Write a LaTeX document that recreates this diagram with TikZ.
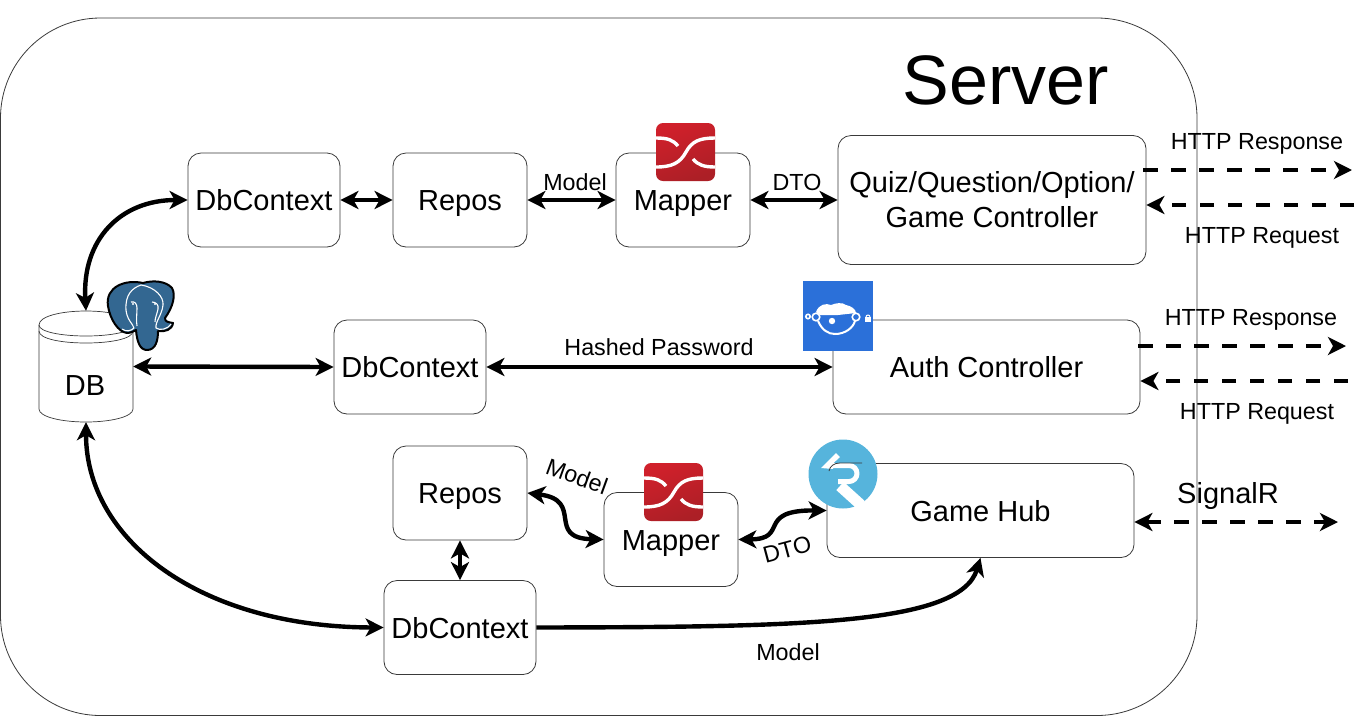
\documentclass[tikz,border=0pt]{standalone}
\usepackage{fontspec}
\setmainfont{Liberation Sans}
\usetikzlibrary{arrows.meta}
\definecolor{pgblue}{HTML}{336791}
\definecolor{amred}{HTML}{D0202B}
\definecolor{amdark}{HTML}{AC1F26}
\definecolor{fishblue}{HTML}{2B70D9}
\definecolor{sigblue}{HTML}{56B4DC}
\definecolor{boxline}{HTML}{3A3A3A}
\tikzset{
  box/.style={draw=boxline,line width=0.8pt,rounded corners=13pt,inner sep=0pt,font=\fontsize{29}{35}\selectfont,align=center},
  one/.style={text height=21pt,text depth=0pt},
  lab/.style={inner sep=0pt,font=\fontsize{23.3}{28}\selectfont,text height=17pt,text depth=0pt},
  link/.style={line width=4.4pt,draw=black,{Stealth[length=18pt,width=18pt,inset=5pt]}-{Stealth[length=18pt,width=18pt,inset=5pt]}},
  oneway/.style={line width=4.4pt,draw=black,-{Stealth[length=18pt,width=18pt,inset=5pt]},dash pattern=on 14.5pt off 13.5pt},
  twoway/.style={line width=4.4pt,draw=black,{Stealth[length=18pt,width=18pt,inset=5pt]}-{Stealth[length=18pt,width=18pt,inset=5pt]},dash pattern=on 14.5pt off 13.5pt},
  cyl/.style={draw=boxline,line width=0.7pt,fill=white}
}
\begin{document}
\begin{tikzpicture}[x=1pt,y=-1pt]
\useasboundingbox (0,0) rectangle (1366,716);
\draw[boxline,line width=0.8pt,rounded corners=100pt] (0.5,18) rectangle (1197,715.5);
\node[inner sep=0pt,font=\fontsize{70}{80}\selectfont] (title) at (1005.5,80) {Server};

% boxes
\node[box,one,minimum width=152pt,minimum height=94pt] (dc1) at (264,200) {DbContext};
\node[box,one,minimum width=134pt,minimum height=94pt] (rp1) at (460,200) {Repos};
\node[box,one,minimum width=134pt,minimum height=94pt] (mp1) at (683,200) {Mapper};
\node[box,minimum width=308pt,minimum height=129pt] (qz) at (992,200) {Quiz/Question/Option/\\Game Controller};
\node[box,one,minimum width=152pt,minimum height=94pt] (dc2) at (410,367) {DbContext};
\node[box,one,minimum width=307pt,minimum height=94pt] (au) at (986.5,367) {Auth Controller};
\node[box,one,minimum width=134pt,minimum height=94pt] (rp3) at (460,493) {Repos};
\node[box,one,minimum width=134pt,minimum height=94pt] (mp3) at (671,539.5) {Mapper};
\node[box,one,minimum width=307pt,minimum height=94pt] (gh) at (980.5,510.5) {Game Hub};
\node[box,one,minimum width=152pt,minimum height=94pt] (dc3) at (460,627.5) {DbContext};

% DB cylinder
\path[cyl] (39,325) .. controls (39,316) and (62,311) .. (86,311) .. controls (110,311) and (133,316) .. (133,325) -- (133,409)
  .. controls (133,417) and (110,422) .. (86,422) .. controls (62,422) and (39,417) .. (39,409) -- cycle;
\draw[boxline,line width=0.7pt] (39,325) .. controls (39,332) and (62,336) .. (86,336) .. controls (110,336) and (133,332) .. (133,325);
\draw[boxline,line width=0.7pt] (39,331) .. controls (39,339) and (62,343) .. (86,343) .. controls (110,343) and (133,339) .. (133,331);
\node[inner sep=0pt,minimum width=94pt,minimum height=111pt] (db) at (86,366.5) {};
\node[inner sep=0pt,one,font=\fontsize{29}{35}\selectfont] (dbl) at (85,385) {DB};

% connectors
\draw[link] (dc1.west) .. controls (120,200) and (82,240) .. (db.north);
\draw[link] (dc1.east) -- (rp1.west);
\draw[link] (rp1.east) -- (mp1.west);
\draw[link] (mp1.east) -- (qz.west);
\draw[link] (db.east) -- (dc2.west);
\draw[link] (dc2.east) -- (au.west);
\draw[link] (rp3.east) .. controls (585,500) and (545,538) .. (mp3.west);
\draw[link] (mp3.east) .. controls (790,539) and (755,510) .. (gh.west);
\draw[link] (rp3.south) -- (rp3.south |- dc3.north);
\draw[link] (db.south) .. controls (86,540) and (200,627) .. (dc3.west);
\draw[line width=4.4pt,-{Stealth[length=18pt,width=18pt,inset=5pt]}] (dc3.east) .. controls (800,627) and (960,625) .. (gh.south);

\coordinate (r1) at (1352,170); \coordinate (q1) at (1354,205);
\coordinate (r2) at (1346,346); \coordinate (q2) at (1348,381);
\coordinate (s3) at (1338,522);
\draw[oneway] ([xshift=-3pt]qz.east |- r1) -- (r1);
\draw[oneway] (q1) -- (qz.east |- q1);
\draw[oneway] ([xshift=-2pt]au.east |- r2) -- (r2);
\draw[oneway] (q2) -- (au.east |- q2);
\draw[twoway] (gh.east |- s3) -- (s3);

% labels
\node[lab] (l1) at (575,182) {Model};
\node[lab] (l2) at (797,182) {DTO};
\node[lab] (l3) at (659,347) {Hashed Password};
\node[lab,rotate=-20] (l4) at (577,476) {Model};
\node[lab,rotate=15] (l5) at (787,549) {DTO};
\node[lab] (l6) at (788,652) {Model};
\node[lab] (l7) at (1257,141) {HTTP Response};
\node[lab] (l8) at (1262,235) {HTTP Request};
\node[lab] (l9) at (1251,317) {HTTP Response};
\node[lab] (l10) at (1257,411) {HTTP Request};
\node[inner sep=0pt,one,font=\fontsize{29}{35}\selectfont] (l11) at (1228,493) {SignalR};

% automapper logos
\foreach \dx/\dy in {0/0,-12/340}{
\begin{scope}[shift={(\dx,\dy)}]
  \path[rounded corners=7pt,left color=amred,right color=amdark,shading angle=20] (656,123) rectangle (715,181);
  \draw[white,line width=3.4pt] (656,138) .. controls (668,138) and (673,140) .. (678,146);
  \draw[white,line width=3.4pt] (715,138) .. controls (700,138) and (692,141) .. (686,152) .. controls (680,163) and (672,167) .. (656,167);
  \draw[white,line width=3.4pt] (715,167) .. controls (704,167) and (698,165) .. (693,159);
\end{scope}}

% elephant
\path[fill=pgblue,draw=black,line width=2pt,line join=round]
  (143,283) .. controls (125,279) and (105,287) .. (108,306) .. controls (110,319) and (118,332) .. (127,333)
  .. controls (131,333) and (134,331) .. (136,330) .. controls (137,342) and (140,350) .. (147,350)
  .. controls (156,350) and (158,340) .. (158,331) .. controls (165,332) and (172,330) .. (173,323)
  .. controls (168,322) and (165,322) .. (165,318) .. controls (173,307) and (176,295) .. (172,288)
  .. controls (166,281) and (153,280) .. (143,283) -- cycle;
\draw[white,line width=1.1pt,line join=round] (141,285) .. controls (132,288) and (125,295) .. (126,310) .. controls (127,320) and (133,324) .. (134,328) .. controls (131,331) and (126,332) .. (122,329);
\draw[white,line width=1.1pt,line join=round] (141,285) .. controls (155,287) and (164,297) .. (163,305) .. controls (162,315) and (155,322) .. (156,328) .. controls (160,331) and (168,329) .. (171,324);
\draw[white,line width=1.1pt] (131,302) .. controls (135,301) and (137,304) .. (137,308) .. controls (137,314) and (136,320) .. (137,326);
\draw[white,line width=1.1pt] (152,302) .. controls (156,302) and (159,305) .. (158,309) .. controls (157,314) and (155,318) .. (155,322);
\fill[white] (133,304) circle (1.2pt) (155,304) circle (1.2pt);

% fish logo
\fill[fishblue] (803,281) rectangle (873,351);
\draw[white,line width=1.6pt] (808,316.5) circle (2.2pt);
\fill[white] (865,317) rectangle (871,322);
\draw[white,line width=1pt] (866,317) arc (180:0:2pt);
\draw[white,line width=1.6pt] (816,317) circle (3.8pt);
\draw[white,line width=1.6pt] (856,317) circle (3.8pt);
\draw[white,line width=2pt] (818,321) .. controls (822,330) and (828,334) .. (835,334) .. controls (845,334) and (853,328) .. (855,321);
\fill[white] (816,312) .. controls (819,304) and (826,303) .. (831,305) .. controls (836,303) and (842,302) .. (846,305) .. controls (851,306) and (856,309) .. (856,313) -- (838,315) -- (820,315) -- cycle;
\fill[white] (832,321) circle (3.2pt);

% signalr logo
\fill[sigblue] (843,474) circle (34.5pt);
\draw[white,line width=5pt,line join=round] (830,465.5) -- (849,465.5) arc (90:-90:8pt) -- (838,481.5);
\draw[white,line width=11pt] (840,486) -- (861,505);
\fill[white] (821,468) -- (836,453) -- (840,457) -- (833,463.5) -- (833,469) -- cycle;
\draw[boxline,line width=0.8pt] (829,471) .. controls (830,466) and (834,463) .. (840,463) -- (862,463);
\end{tikzpicture}
\end{document}
